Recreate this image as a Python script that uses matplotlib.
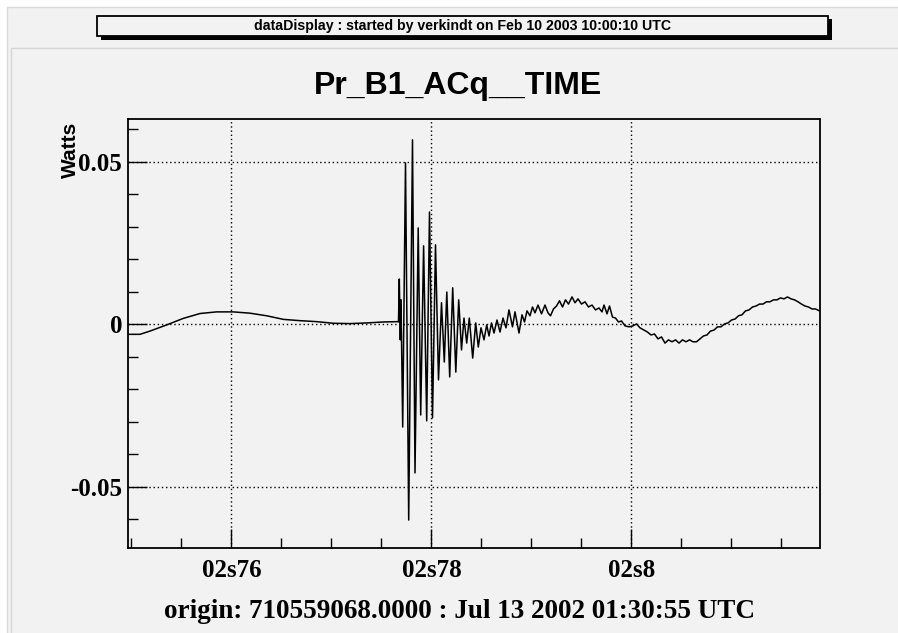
import numpy as np
import matplotlib
matplotlib.use("Agg")
import matplotlib.pyplot as plt
from matplotlib.patches import Rectangle
from matplotlib.ticker import FixedLocator, MultipleLocator

# Pr_B1_ACq channel, time in seconds within the minute, power in Watts
time_s = [
    0.74962, 0.75085, 0.75185, 0.75352, 0.75518, 0.75685, 0.75852, 0.76018,
    0.76185, 0.76352, 0.76518, 0.76685, 0.76852, 0.77018, 0.77185, 0.77352,
    0.77518, 0.77662, 0.77670,
    # burst
    0.77678, 0.77688, 0.77695, 0.77712, 0.77740, 0.77772, 0.77810, 0.77835,
    0.77867, 0.77892, 0.77921, 0.77952, 0.77980, 0.78010, 0.78040, 0.78070,
    0.78100, 0.78128, 0.78153, 0.78182, 0.78212, 0.78243, 0.78272, 0.78300,
    0.78325, 0.78352, 0.78378, 0.78412, 0.78442, 0.78468, 0.78495, 0.78525,
    0.78552, 0.78575, 0.78600, 0.78625, 0.78655, 0.78685, 0.78715, 0.78745,
    0.78775, 0.78810, 0.78835, 0.78875, 0.78905, 0.78930, 0.78955, 0.78985,
    0.79010, 0.79035, 0.79065, 0.79100, 0.79135, 0.79165, 0.79190, 0.79220,
    0.79250, 0.79280, 0.79310, 0.79340, 0.79370, 0.79405, 0.79435, 0.79465,
    0.79500, 0.79535, 0.79570, 0.79605, 0.79640, 0.79675, 0.79705, 0.79725,
    0.79755, 0.79780, 0.79810, 0.79840, 0.79870, 0.79900, 0.79935, 0.79975,
    0.80015, 0.80050, 0.80085, 0.80125, 0.80160, 0.80195, 0.80230, 0.80265,
    0.80300, 0.80335, 0.80370, 0.80405, 0.80440, 0.80475, 0.80510, 0.80545,
    0.80580, 0.80615, 0.80650, 0.80685, 0.80720, 0.80755, 0.80790, 0.80825,
    0.80860, 0.80895, 0.80930, 0.80965, 0.81000, 0.81035, 0.81070, 0.81105,
    0.81140, 0.81175, 0.81210, 0.81245, 0.81280, 0.81315, 0.81350, 0.81385,
    0.81420, 0.81455, 0.81490, 0.81525, 0.81560, 0.81595, 0.81630, 0.81665,
    0.81700, 0.81735, 0.81770, 0.81805, 0.81840, 0.81880,
]
power_w = [
    -0.0031, -0.0031, -0.0021, -0.0002, 0.0018, 0.0033, 0.0038, 0.0038,
    0.0034, 0.0026, 0.0015, 0.0011, 0.0008, 0.0003, 0.0002, 0.0004,
    0.0007, 0.0008, 0.0007,
    0.0139, -0.0048, 0.0075, -0.0316, 0.0496, -0.0602, 0.0567, -0.0457,
    0.0296, -0.0279, 0.0241, -0.0297, 0.0345, -0.0288, 0.0244, -0.0171,
    0.0066, -0.0116, 0.0099, -0.0162, 0.0112, -0.0147, 0.0075, -0.0079,
    0.0019, -0.0058, 0.0019, -0.0104, 0.0004, -0.0070, -0.0011, -0.0048,
    -0.0002, -0.0036, 0.0004, -0.0027, 0.0013, -0.0024, 0.0019, -0.0011,
    0.0044, -0.0008, 0.0038, -0.0027, 0.0029, 0.0007, 0.0041, 0.0026,
    0.0053, 0.0035, 0.0059, 0.0032, 0.0059, 0.0035, 0.0026, 0.0047,
    0.0056, 0.0072, 0.0053, 0.0075, 0.0062, 0.0084, 0.0066, 0.0078,
    0.0062, 0.0069, 0.0053, 0.0059, 0.0044, 0.0050, 0.0038, 0.0059,
    0.0032, 0.0056, 0.0022, 0.0019, 0.0007, 0.0010, -0.0005, -0.0008,
    -0.0005, 0.0001, -0.0011, -0.0018, -0.0024, -0.0033, -0.0030, -0.0045,
    -0.0039, -0.0058, -0.0048, -0.0054, -0.0048, -0.0058, -0.0048, -0.0054,
    -0.0048, -0.0054, -0.0054, -0.0045, -0.0036, -0.0033, -0.0021, -0.0018,
    -0.0008, -0.0008, 0.0001, 0.0004, 0.0013, 0.0016, 0.0026, 0.0029,
    0.0041, 0.0044, 0.0053, 0.0056, 0.0062, 0.0062, 0.0069, 0.0069,
    0.0075, 0.0075, 0.0081, 0.0078, 0.0084, 0.0078, 0.0075, 0.0069,
    0.0062, 0.0056, 0.0053, 0.0047, 0.0047, 0.0041,
]

major_x = [0.76, 0.78, 0.80]
major_x_labels = ["02s76", "02s78", "02s8"]
major_y = [-0.05, 0.0, 0.05]
major_y_labels = ["-0.05", "0", "0.05"]

header = "dataDisplay : started by verkindt on Feb 10 2003 10:00:10 UTC"
title = "Pr_B1_ACq__TIME"
xlabel = "origin: 710559068.0000 : Jul 13 2002 01:30:55 UTC"

bg = "#f2f2f2"
serif = "Liberation Serif"
sans = "Liberation Sans"

W, H = 898, 633
fig = plt.figure(figsize=(W / 100, H / 100), dpi=100, facecolor="white")

def px_rect(x0, y0, x1, y1, **kw):
    # rectangle given in pixel coords from the top-left
    return Rectangle((x0 / W, 1 - y1 / H), (x1 - x0) / W, (y1 - y0) / H,
                     transform=fig.transFigure, figure=fig, zorder=-5, **kw)

# canvas and pad backgrounds
fig.patches.append(px_rect(7, 7, 899, 634, facecolor=bg, edgecolor="#dadada", lw=1))
fig.patches.append(px_rect(11, 48, 899, 634, facecolor=bg, edgecolor="#d6d6d6", lw=1))
# header box with shadow
fig.patches.append(px_rect(101, 19, 832, 40, facecolor="black", edgecolor="black", lw=0))
fig.patches.append(px_rect(97, 16, 828, 36, facecolor=bg, edgecolor="black", lw=1.3))

fig.text(462.5 / W, 1 - 26 / H, header, ha="center", va="center",
         fontsize=10.2, fontweight="bold", family=sans)
fig.text(458 / W, 1 - 86 / H, title, ha="center", va="center",
         fontsize=23, fontweight="bold", family=sans)
fig.text(70 / W, 1 - 150 / H, "Watts", ha="center", va="center", rotation=90,
         fontsize=15, fontweight="bold", family=sans)
fig.text(460 / W, 1 - 612 / H, xlabel, ha="center", va="center",
         fontsize=19.5, fontweight="bold", family=serif)

ax = fig.add_axes([127.7 / W, 1 - 547.7 / H, (819.5 - 127.7) / W, (547.7 - 119) / H])
ax.set_facecolor(bg)
ax.plot(time_s, power_w, color="black", lw=1.1)

ax.set_xlim(0.74962, 0.8188)
ax.set_ylim(-0.0687, 0.0631)

ax.xaxis.set_major_locator(FixedLocator(major_x))
ax.set_xticklabels(major_x_labels)
ax.xaxis.set_minor_locator(MultipleLocator(0.005))
ax.yaxis.set_major_locator(FixedLocator(major_y))
ax.set_yticklabels(major_y_labels)
ax.yaxis.set_minor_locator(MultipleLocator(0.01))

ax.tick_params(which="both", direction="in", top=False, right=False, color="black")
ax.tick_params(which="major", length=14, width=1)
ax.tick_params(which="minor", length=7, width=1)
ax.tick_params(axis="x", which="major", pad=8)
ax.tick_params(axis="y", which="major", pad=4)
for lab in ax.get_xticklabels() + ax.get_yticklabels():
    lab.set_fontfamily(serif)
    lab.set_fontweight("bold")
    lab.set_fontsize(18)

ax.grid(True, which="major", color="black", lw=1, linestyle=(0, (1, 2)))
for s in ax.spines.values():
    s.set_linewidth(1.3)

fig.savefig("out.png", dpi=100, facecolor="white")
